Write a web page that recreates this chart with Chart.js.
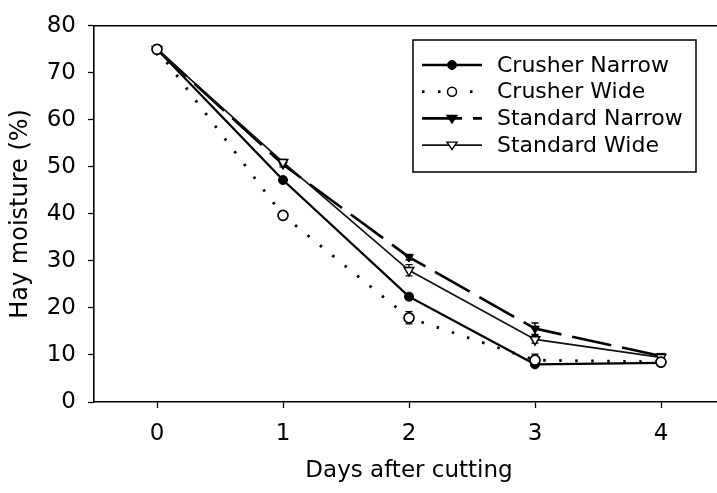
<!DOCTYPE html>
<html>
<head>
<meta charset="utf-8">
<script src="https://cdn.jsdelivr.net/npm/chart.js@4.4.1/dist/chart.umd.min.js"></script>
<style>
  html, body { margin: 0; padding: 0; background: #fff; overflow: hidden; }
  #wrap { width: 740px; height: 493px; position: relative; }
</style>
</head>
<body>
<div id="wrap"><canvas id="c"></canvas></div>
<script>
// ---- data ----
const days = [0, 1, 2, 3, 4];
const xTicks = [0, 1, 2, 3, 4];
const yTicks = [0, 10, 20, 30, 40, 50, 60, 70, 80];
const seriesNames = ["Crusher Narrow", "Crusher Wide", "Standard Narrow", "Standard Wide"];
const crusherNarrow = [75, 47.2, 22.4, 8.0, 8.3];
const crusherWide = [75, 39.7, 17.9, 8.9, 8.5];
const standardNarrow = [75, 50.5, 30.8, 15.6, 9.8];
const standardWide = [75, 51.0, 28.0, 13.3, 9.5];
const errCrusherNarrow = [0, 0.6, 0.6, 0.4, 0.3];
const errCrusherWide = [0, 0.5, 1.3, 1.3, 0.4];
const errStandardNarrow = [0, 0.5, 0.6, 1.2, 0.4];
const errStandardWide = [0, 0.6, 1.2, 0.8, 0.4];
const xTitle = "Days after cutting";
const yTitle = "Hay moisture (%)";

const FONT = "'DejaVu Sans', sans-serif";

function pts(arr) { return days.map((d, i) => ({ x: d, y: arr[i] })); }

const datasets = [
  { label: seriesNames[0], data: pts(crusherNarrow), errors: errCrusherNarrow, order: 2,
    borderColor: '#000', borderWidth: 2.3, borderDash: [],
    pointStyle: 'circle', pointRadius: 4.5, pointBackgroundColor: '#000', pointBorderColor: '#000', pointBorderWidth: 1,
    mk: 'fcircle' },
  { label: seriesNames[1], data: pts(crusherWide), errors: errCrusherWide, order: 0,
    borderColor: '#000', borderWidth: 2.8, borderDash: [2.5, 13.5],
    pointStyle: 'circle', pointRadius: 5, pointBackgroundColor: '#fff', pointBorderColor: '#000', pointBorderWidth: 1.7,
    mk: 'ocircle' },
  { label: seriesNames[2], data: pts(standardNarrow), errors: errStandardNarrow, order: 3,
    borderColor: '#000', borderWidth: 2.6, borderDash: [40, 11],
    pointStyle: 'triangle', pointRotation: 180, pointRadius: 5, pointBackgroundColor: '#000', pointBorderColor: '#000', pointBorderWidth: 1,
    mk: 'ftri' },
  { label: seriesNames[3], data: pts(standardWide), errors: errStandardWide, order: 1,
    borderColor: '#111', borderWidth: 1.7, borderDash: [],
    pointStyle: 'triangle', pointRotation: 180, pointRadius: 5.5, pointBackgroundColor: '#fff', pointBorderColor: '#000', pointBorderWidth: 1.5,
    mk: 'otri' }
];
datasets.forEach(d => { d.tension = 0; d.fill = false; });

const errorBars = {
  id: 'errorBars',
  beforeDatasetsDraw(chart) {
    const ctx = chart.ctx, xs = chart.scales.x, ys = chart.scales.y;
    ctx.save();
    ctx.strokeStyle = '#000'; ctx.lineWidth = 1.3; ctx.setLineDash([]);
    chart.data.datasets.forEach(ds => {
      ds.data.forEach((p, i) => {
        const e = ds.errors[i];
        if (!e) return;
        const x = xs.getPixelForValue(p.x);
        const y1 = ys.getPixelForValue(p.y - e), y2 = ys.getPixelForValue(p.y + e);
        ctx.beginPath();
        ctx.moveTo(x, y1); ctx.lineTo(x, y2);
        ctx.moveTo(x - 3.5, y1); ctx.lineTo(x + 3.5, y1);
        ctx.moveTo(x - 3.5, y2); ctx.lineTo(x + 3.5, y2);
        ctx.stroke();
      });
    });
    ctx.restore();
  }
};

function drawMarker(ctx, type, x, y) {
  ctx.save();
  ctx.setLineDash([]);
  ctx.strokeStyle = '#000';
  if (type === 'fcircle' || type === 'ocircle') {
    ctx.beginPath();
    ctx.arc(x, y, 4.5, 0, Math.PI * 2);
    ctx.fillStyle = type === 'fcircle' ? '#000' : '#fff';
    ctx.fill();
    ctx.lineWidth = type === 'fcircle' ? 1 : 1.5;
    ctx.stroke();
  } else {
    const r = 5;
    ctx.beginPath();
    ctx.moveTo(x - r, y - r * 0.6);
    ctx.lineTo(x + r, y - r * 0.6);
    ctx.lineTo(x, y + r * 0.9);
    ctx.closePath();
    ctx.fillStyle = type === 'ftri' ? '#000' : '#fff';
    ctx.fill();
    ctx.lineWidth = 1.4;
    ctx.stroke();
  }
  ctx.restore();
}

const boxLegend = {
  id: 'boxLegend',
  afterDraw(chart) {
    const ctx = chart.ctx;
    const bx = 413, by = 40, bw = 283, bh = 132;
    ctx.save();
    ctx.fillStyle = '#fff';
    ctx.fillRect(bx, by, bw, bh);
    ctx.strokeStyle = '#000'; ctx.lineWidth = 1.5; ctx.setLineDash([]);
    ctx.strokeRect(bx, by, bw, bh);
    ctx.font = "22px " + FONT;
    ctx.textBaseline = 'middle';
    ctx.textAlign = 'left';
    chart.data.datasets.forEach((ds, i) => {
      const y = 65 + i * 26.7;
      ctx.beginPath();
      ctx.setLineDash(ds.borderDash || []);
      ctx.lineDashOffset = 0;
      ctx.lineWidth = ds.borderWidth;
      ctx.strokeStyle = ds.borderColor;
      ctx.moveTo(422, y); ctx.lineTo(482, y);
      ctx.stroke();
      drawMarker(ctx, ds.mk, 452, y);
      ctx.fillStyle = '#000';
      ctx.fillText(ds.label, 497, y + 1);
    });
    ctx.restore();
  }
};

new Chart(document.getElementById('c'), {
  type: 'line',
  data: { datasets },
  options: {
    responsive: true,
    maintainAspectRatio: false,
    animation: false,
    layout: { padding: { top: 20, left: 0, right: 16, bottom: 0 } },
    plugins: { legend: { display: false }, tooltip: { enabled: false } },
    scales: {
      x: {
        type: 'linear', min: -0.5, max: 4.5, position: 'bottom',
        afterBuildTicks(s) { s.ticks = xTicks.map(v => ({ value: v })); },
        afterFit(s) { s.height = 91; },
        grid: { display: true, drawOnChartArea: false, drawTicks: true, tickLength: 6, tickColor: '#000', tickWidth: 1.3 },
        border: { display: true, color: '#000', width: 1.6 },
        ticks: { color: '#000', font: { family: FONT, size: 23 }, padding: 12, maxRotation: 0,
                 callback: v => String(v) },
        title: { display: true, text: xTitle, color: '#000', font: { family: FONT, size: 23 }, padding: { top: 0, bottom: 8 } }
      },
      x2: {
        type: 'linear', min: -0.5, max: 4.5, position: 'top',
        afterFit(s) { s.height = 0; },
        grid: { display: false },
        border: { display: true, color: '#000', width: 1.6 },
        ticks: { display: false }
      },
      y: {
        type: 'linear', min: 0, max: 80, position: 'left',
        afterBuildTicks(s) { s.ticks = yTicks.map(v => ({ value: v })); },
        afterFit(s) { s.width = 94; },
        grid: { display: true, drawOnChartArea: false, drawTicks: true, tickLength: 6, tickColor: '#000', tickWidth: 1.3 },
        border: { display: true, color: '#000', width: 1.6 },
        ticks: { color: '#000', font: { family: FONT, size: 23 }, padding: 12 },
        title: { display: true, text: yTitle, color: '#000', font: { family: FONT, size: 24 }, padding: { top: 6, bottom: 0 } }
      }
    }
  },
  plugins: [errorBars, boxLegend]
});
</script>
</body>
</html>
